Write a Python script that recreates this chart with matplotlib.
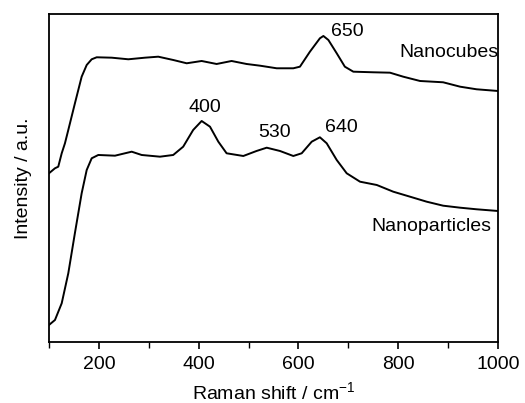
import matplotlib.pyplot as plt
from matplotlib.ticker import MultipleLocator

plt.rcParams["font.family"] = ["Liberation Sans", "DejaVu Sans"]
plt.rcParams["mathtext.fontset"] = "custom"
plt.rcParams["mathtext.rm"] = "Liberation Sans"

# Raman shift (cm^-1) and intensity (arbitrary)
cubes_x = [100, 112, 118.6, 125.5, 132, 138.7, 152, 165.5, 175.6, 185.6, 195.6,
           225.7, 259, 292.4, 319, 349, 376, 406, 436, 466, 496, 523, 556.4,
           589.7, 603, 623, 643, 650, 660, 676.7, 693, 710, 750, 783.5, 810,
           843.7, 890, 924, 957, 1000]
cubes_y = [168.7, 173.7, 175.3, 188.7, 198.7, 212, 238.7, 265.3, 277, 282.7, 284.7,
           284.3, 282.7, 284.3, 285.3, 282, 278.7, 281, 278, 281, 278, 276.3, 273.7,
           273.7, 275.3, 290.3, 303.7, 306, 302, 288.7, 275.3, 270.3, 269.7, 269.3, 265.3,
           261, 259.7, 255.3, 252.7, 251]

parts_x = [100, 112, 125.5, 138.7, 152, 165.5, 175.6, 185.6, 198.8, 232.3, 252.3,
           265.8, 285.8, 322.5, 349, 369, 389, 406, 422.7, 439.4, 456, 489.5, 516,
           536.4, 563, 589.7, 606.5, 626.6, 643, 656.6, 676.7, 696.7, 723.4, 757,
           790, 823.6, 857, 890, 924, 957, 1000]
parts_y = [17, 22, 38.7, 68.7, 109, 148.7, 172, 183.7, 187, 186.3, 188.7,
           190.3, 187, 185.3, 187, 195.3, 212, 221, 215.3, 200.3, 188.7, 186, 191,
           194.3, 191, 186, 188.7, 200.3, 204.7, 198.7, 182, 168.7, 160.3, 157,
           150.3, 145.3, 140.3, 136.3, 134.3, 132.7, 131]

peak_labels = ["650", "400", "530", "640"]
peak_pos = [(697, 310), (413, 234), (553, 209), (687, 214)]

fig = plt.figure(figsize=(5.25, 4.03), dpi=100)
ax = fig.add_axes([0.0933, 0.1514, 0.8553, 0.8139])

ax.plot(cubes_x, cubes_y, color="black", lw=1.4, solid_joinstyle="round")
ax.plot(parts_x, parts_y, color="black", lw=1.4, solid_joinstyle="round")

for lab, (xv, yv) in zip(peak_labels, peak_pos):
    ax.text(xv, yv, lab, fontsize=14, ha="center", va="center")
ax.text(1000, 289, "Nanocubes", fontsize=14, ha="right", va="center")
ax.text(867, 115, "Nanoparticles", fontsize=14, ha="center", va="center")

ax.set_xlim(100, 1000)
ax.set_ylim(0, 328)
ax.xaxis.set_major_locator(MultipleLocator(200))
ax.xaxis.set_minor_locator(MultipleLocator(100))
ax.tick_params(axis="x", which="major", direction="out", length=5, width=1.2, labelsize=14, pad=5)
ax.tick_params(axis="x", which="minor", direction="out", length=4, width=1.0)
ax.set_xticks([200, 400, 600, 800, 1000])
ax.set_yticks([])
for s in ax.spines.values():
    s.set_linewidth(1.3)

ax.set_xlabel("Raman shift / cm$^{\\mathregular{-1}}$", fontsize=14, labelpad=6)
ax.set_ylabel("Intensity / a.u.", fontsize=14, labelpad=12)

fig.savefig("out.png", dpi=100)
